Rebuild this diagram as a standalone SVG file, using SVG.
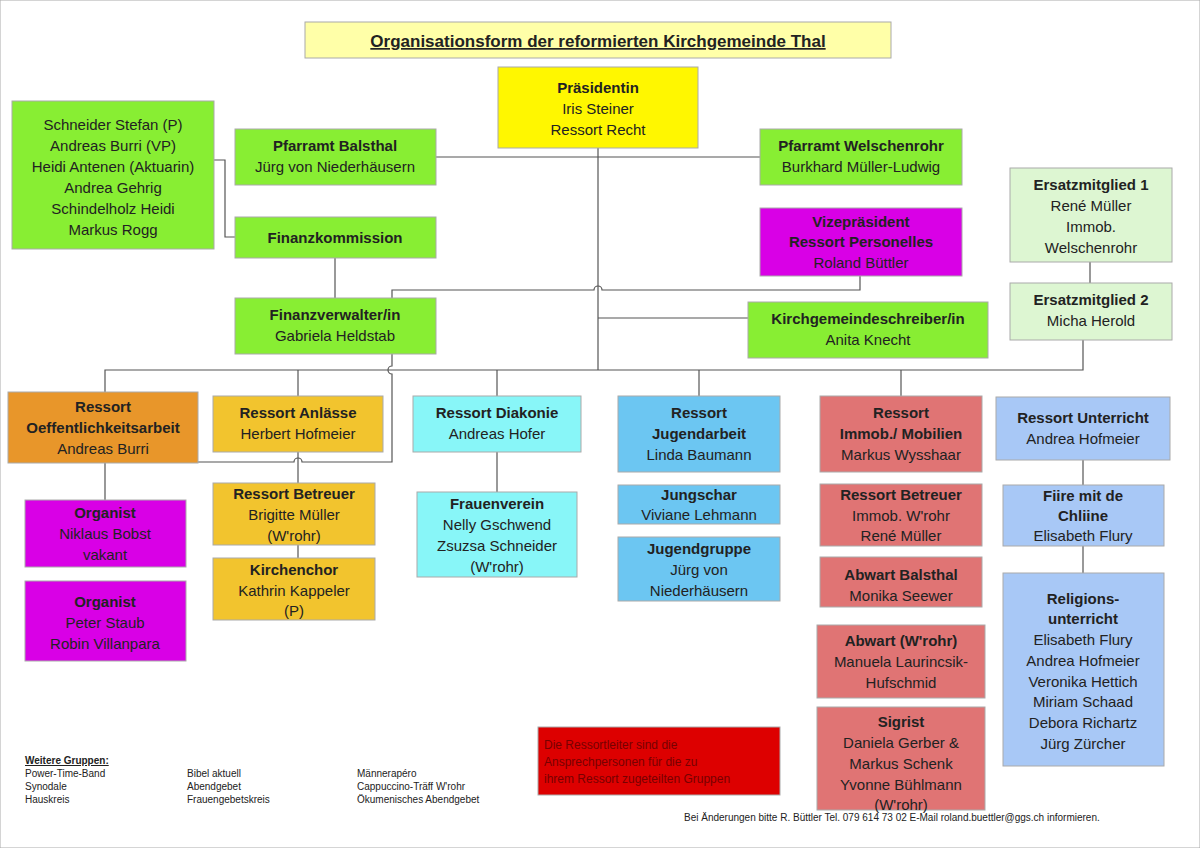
<svg xmlns="http://www.w3.org/2000/svg" width="1200" height="848" viewBox="0 0 1200 848">
<style>
text{font-family:"Liberation Sans",Arial,sans-serif;font-size:15px;fill:#222;text-anchor:middle}
.b{font-weight:bold}
.s{font-size:10px;text-anchor:start}
rect{stroke:#aaa;stroke-width:1}
.g{fill:#88EE33}.m{fill:#D900E6}.o{fill:#E8962A}.y{fill:#F2C42E}.c{fill:#88F6F8}.bl{fill:#6CC6F2}.r{fill:#E07474}.u{fill:#A8C8F6}.e{fill:#DDF6D2}
#conn path{fill:none;stroke:#555;stroke-width:1.2}
</style>
<rect width="1200" height="848" fill="#fff" stroke="none"/>
<g id="conn">
<path d="M598 148 V370"/>
<path d="M436 157 H760"/>
<path d="M598 318 H748"/>
<path d="M214 160 H225 V237 H235"/>
<path d="M335 258 V298"/>
<path d="M105 392 V370 H1083 V340"/>
<path d="M1090 262 V283"/>
<path d="M298 370 V396"/><path d="M497 370 V396"/><path d="M699 370 V396"/><path d="M901 370 V396"/>
<path d="M298 452 V483"/><path d="M298 545 V558"/>
<path d="M497 452 V492"/>
<path d="M1083 460 V485"/><path d="M1083 546 V573"/>
<path d="M860 276 V290 H602 a4 4 0 0 0 -8 0 H392 V366 a4 4 0 0 0 0 8 V462 H302 a4 4 0 0 0 -8 0 H105 V500"/>
</g>
<g id="title"><rect x="305" y="22" width="586" height="36" fill="#FFFFA8"/><text x="598" y="47" class="b" style="font-size:17px;text-decoration:underline">Organisationsform der reformierten Kirchgemeinde Thal</text></g>
<g id="praes"><rect x="498" y="67" width="200" height="81" fill="#FFF700"/><text x="598" y="93" class="b">Präsidentin</text><text x="598" y="114">Iris Steiner</text><text x="598" y="135">Ressort Recht</text></g>
<g id="schneider"><rect x="12" y="101" width="202" height="148" class="g"/><text x="113" y="130">Schneider Stefan (P)</text><text x="113" y="151">Andreas Burri (VP)</text><text x="113" y="172">Heidi Antenen (Aktuarin)</text><text x="113" y="193">Andrea Gehrig</text><text x="113" y="214">Schindelholz Heidi</text><text x="113" y="235">Markus Rogg</text></g>
<g id="pfb"><rect x="235" y="129" width="201" height="56" class="g"/><text x="335" y="151" class="b">Pfarramt Balsthal</text><text x="335" y="172">Jürg von Niederhäusern</text></g>
<g id="pfw"><rect x="760" y="129" width="202" height="56" class="g"/><text x="861" y="151" class="b">Pfarramt Welschenrohr</text><text x="861" y="172">Burkhard Müller-Ludwig</text></g>
<g id="fk"><rect x="235" y="217" width="201" height="41" class="g"/><text x="335" y="243" class="b">Finanzkommission</text></g>
<g id="vize"><rect x="760" y="208" width="202" height="68" class="m"/><text x="861" y="227" class="b">Vizepräsident</text><text x="861" y="247" class="b">Ressort Personelles</text><text x="861" y="268">Roland Büttler</text></g>
<g id="fv"><rect x="235" y="298" width="201" height="56" class="g"/><text x="335" y="320" class="b">Finanzverwalter/in</text><text x="335" y="341">Gabriela Heldstab</text></g>
<g id="kgs"><rect x="748" y="302" width="240" height="56" class="g"/><text x="868" y="324" class="b">Kirchgemeindeschreiber/in</text><text x="868" y="345">Anita Knecht</text></g>
<g id="ers1"><rect x="1010" y="168" width="162" height="94" class="e"/><text x="1091" y="190" class="b">Ersatzmitglied 1</text><text x="1091" y="211">René Müller</text><text x="1091" y="232">Immob.</text><text x="1091" y="253">Welschenrohr</text></g>
<g id="ers2"><rect x="1010" y="283" width="162" height="57" class="e"/><text x="1091" y="305" class="b">Ersatzmitglied 2</text><text x="1091" y="326">Micha Herold</text></g>
<g id="oef"><rect x="8" y="392" width="190" height="71" class="o"/><text x="103" y="412" class="b">Ressort</text><text x="103" y="433" class="b">Oeffentlichkeitsarbeit</text><text x="103" y="454">Andreas Burri</text></g>
<g id="anl"><rect x="213" y="396" width="170" height="56" class="y"/><text x="298" y="418" class="b">Ressort Anlässe</text><text x="298" y="439">Herbert Hofmeier</text></g>
<g id="org1"><rect x="25" y="500" width="161" height="67" class="m"/><text x="105" y="518" class="b">Organist</text><text x="105" y="539">Niklaus Bobst</text><text x="105" y="560">vakant</text></g>
<g id="org2"><rect x="25" y="581" width="161" height="80" class="m"/><text x="105" y="607" class="b">Organist</text><text x="105" y="628">Peter Staub</text><text x="105" y="649">Robin Villanpara</text></g>
<g id="betr"><rect x="213" y="483" width="162" height="62" class="y"/><text x="294" y="499" class="b">Ressort Betreuer</text><text x="294" y="520">Brigitte Müller</text><text x="294" y="541">(W'rohr)</text></g>
<g id="chor"><rect x="213" y="558" width="162" height="62" class="y"/><text x="294" y="575" class="b">Kirchenchor</text><text x="294" y="596">Kathrin Kappeler</text><text x="294" y="616">(P)</text></g>
<g id="diak"><rect x="413" y="396" width="168" height="56" class="c"/><text x="497" y="418" class="b">Ressort Diakonie</text><text x="497" y="439">Andreas Hofer</text></g>
<g id="frau"><rect x="417" y="492" width="160" height="85" class="c"/><text x="497" y="509" class="b">Frauenverein</text><text x="497" y="530">Nelly Gschwend</text><text x="497" y="551">Zsuzsa Schneider</text><text x="497" y="572">(W'rohr)</text></g>
<g id="jug"><rect x="618" y="396" width="162" height="76" class="bl"/><text x="699" y="418" class="b">Ressort</text><text x="699" y="439" class="b">Jugendarbeit</text><text x="699" y="460">Linda Baumann</text></g>
<g id="jsch"><rect x="618" y="485" width="162" height="39" class="bl"/><text x="699" y="500" class="b">Jungschar</text><text x="699" y="520">Viviane Lehmann</text></g>
<g id="jgr"><rect x="618" y="537" width="162" height="64" class="bl"/><text x="699" y="554" class="b">Jugendgruppe</text><text x="699" y="575">Jürg von</text><text x="699" y="596">Niederhäusern</text></g>
<g id="imm"><rect x="820" y="396" width="162" height="76" class="r"/><text x="901" y="418" class="b">Ressort</text><text x="901" y="439" class="b">Immob./ Mobilien</text><text x="901" y="460">Markus Wysshaar</text></g>
<g id="rbet"><rect x="820" y="484" width="162" height="62" class="r"/><text x="901" y="500" class="b">Ressort Betreuer</text><text x="901" y="521">Immob. W'rohr</text><text x="901" y="541">René Müller</text></g>
<g id="abb"><rect x="820" y="557" width="162" height="50" class="r"/><text x="901" y="580" class="b">Abwart Balsthal</text><text x="901" y="601">Monika Seewer</text></g>
<g id="abw"><rect x="817" y="625" width="168" height="73" class="r"/><text x="901" y="646" class="b">Abwart (W'rohr)</text><text x="901" y="667">Manuela Laurincsik-</text><text x="901" y="688">Hufschmid</text></g>
<g id="sig"><rect x="817" y="707" width="168" height="103" class="r"/><text x="901" y="727" class="b">Sigrist</text><text x="901" y="748">Daniela Gerber &amp;</text><text x="901" y="769">Markus Schenk</text><text x="901" y="790">Yvonne Bühlmann</text><text x="901" y="810">(W'rohr)</text></g>
<g id="unt"><rect x="996" y="397" width="174" height="63" class="u"/><text x="1083" y="423" class="b">Ressort Unterricht</text><text x="1083" y="444">Andrea Hofmeier</text></g>
<g id="fiire"><rect x="1003" y="485" width="161" height="61" class="u"/><text x="1083" y="501" class="b">Fiire mit de</text><text x="1083" y="521" class="b">Chliine</text><text x="1083" y="541">Elisabeth Flury</text></g>
<g id="rel"><rect x="1003" y="573" width="161" height="193" class="u"/><text x="1083" y="604" class="b">Religions-</text><text x="1083" y="624" class="b">unterricht</text><text x="1083" y="645">Elisabeth Flury</text><text x="1083" y="666">Andrea Hofmeier</text><text x="1083" y="687">Veronika Hettich</text><text x="1083" y="707">Miriam Schaad</text><text x="1083" y="728">Debora Richartz</text><text x="1083" y="749">Jürg Zürcher</text></g>
<g id="note"><rect x="538" y="727" width="242" height="68" fill="#DD0000"/><text x="544" y="749" class="s" style="font-size:12px;fill:#700">Die Ressortleiter sind die</text><text x="544" y="766" class="s" style="font-size:12px;fill:#700">Ansprechpersonen für die zu</text><text x="544" y="783" class="s" style="font-size:12px;fill:#700">ihrem Ressort zugeteilten Gruppen</text></g>
<g id="weitere">
<text x="25" y="764" class="s b" style="text-decoration:underline">Weitere Gruppen:</text>
<text x="25" y="777" class="s">Power-Time-Band</text><text x="25" y="790" class="s">Synodale</text><text x="25" y="803" class="s">Hauskreis</text>
<text x="187" y="777" class="s">Bibel aktuell</text><text x="187" y="790" class="s">Abendgebet</text><text x="187" y="803" class="s">Frauengebetskreis</text>
<text x="357" y="777" class="s">Männerapéro</text><text x="357" y="790" class="s">Cappuccino-Träff W'rohr</text><text x="357" y="803" class="s">Ökumenisches Abendgebet</text>
</g>
<text x="684" y="821" class="s">Bei Änderungen bitte R. Büttler Tel. 079 614 73 02 E-Mail roland.buettler@ggs.ch informieren.</text>
</svg>
